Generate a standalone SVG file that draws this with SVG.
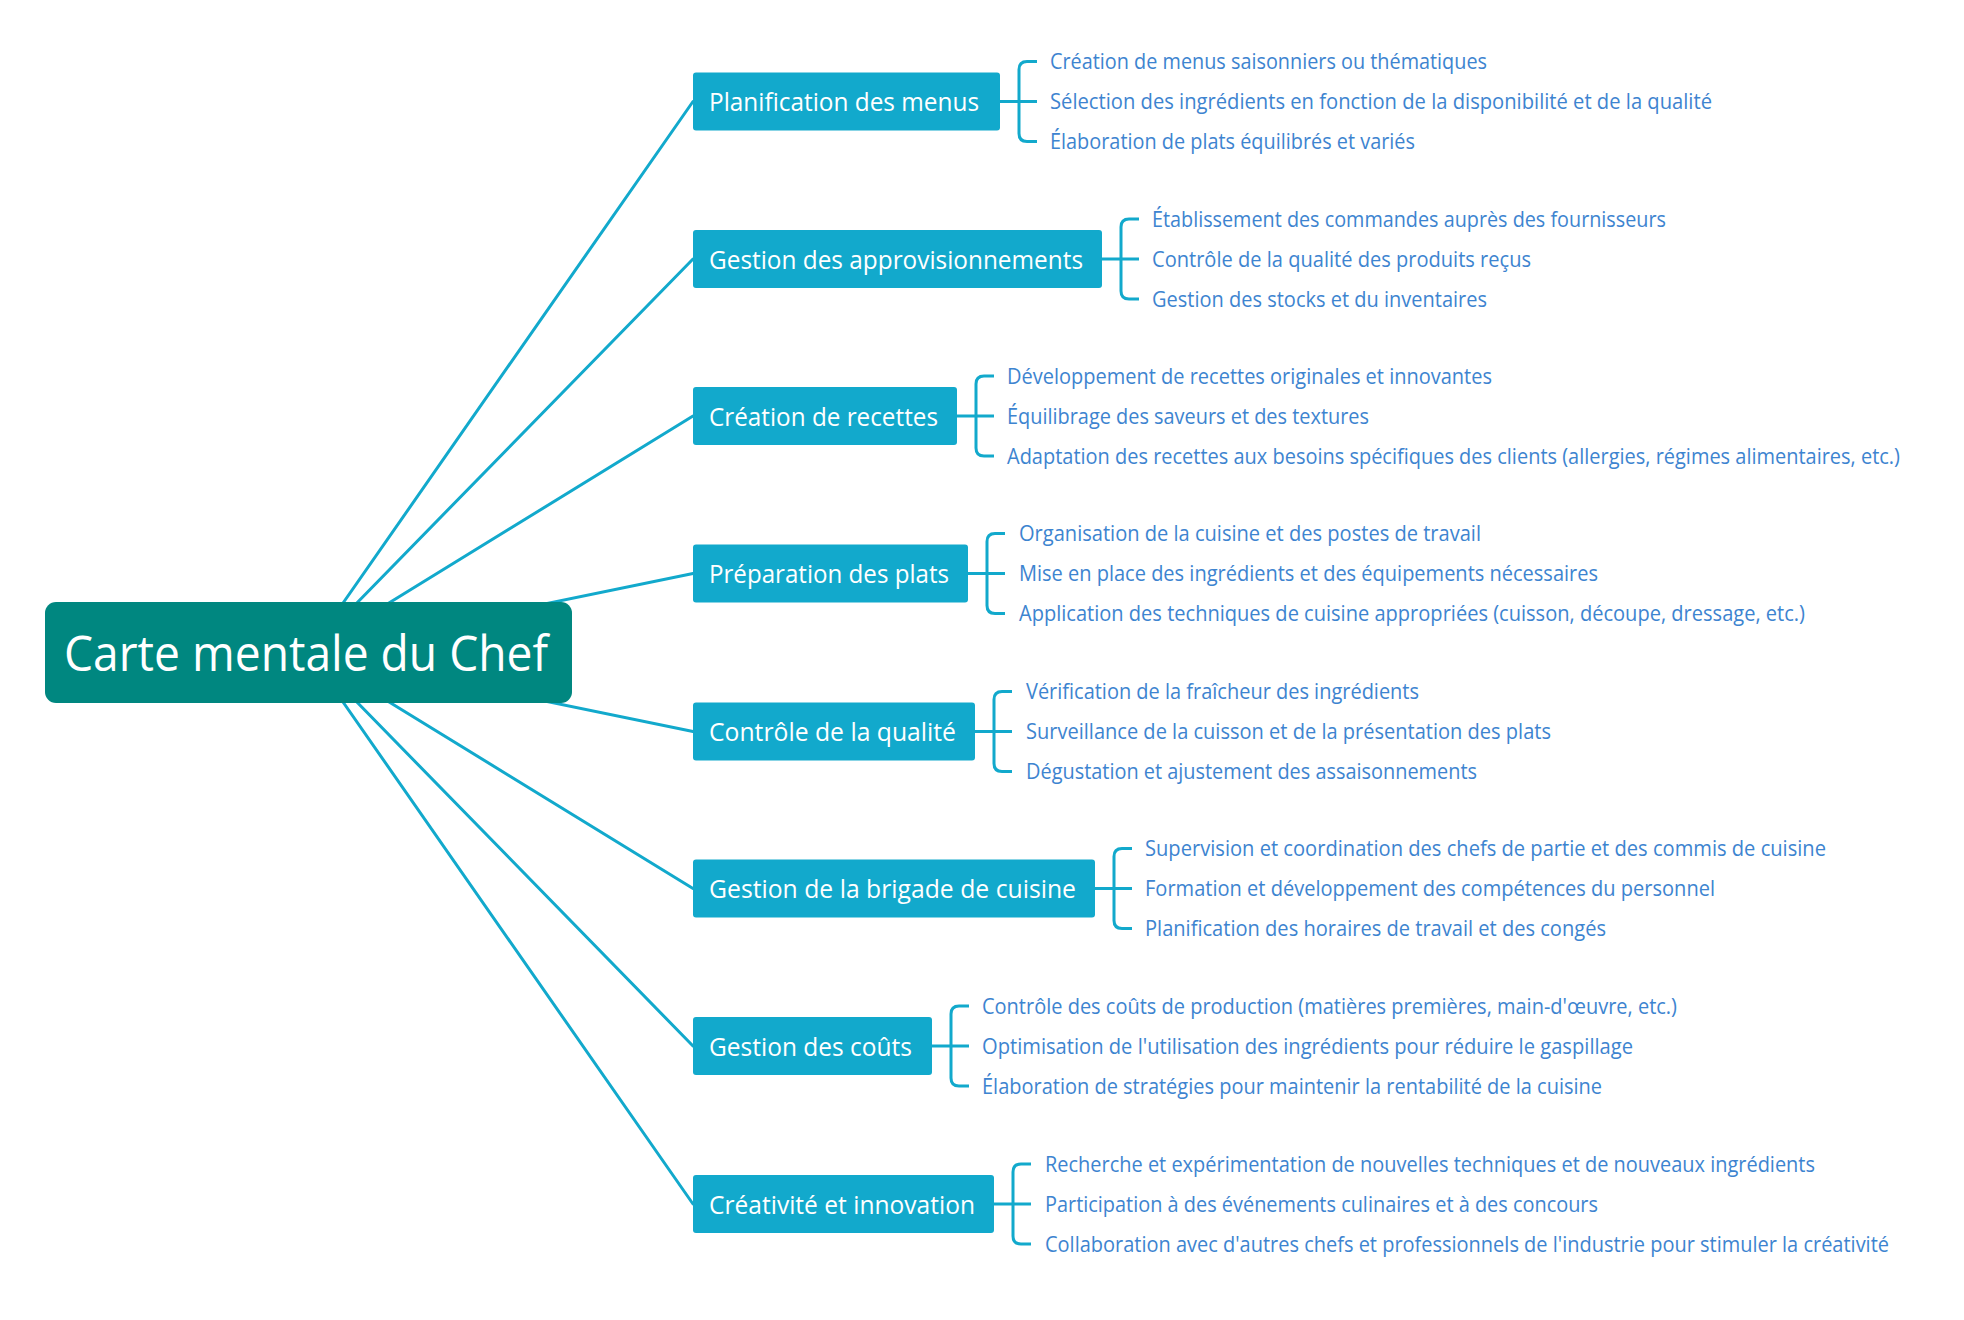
<svg xmlns="http://www.w3.org/2000/svg" width="1964" height="1320" viewBox="0 0 1964 1320">
<style>
.bg{fill:#ffffff}
.conn{fill:none;stroke:#12a9cc;stroke-width:3;stroke-linecap:round}
.brk{fill:none;stroke:#12a9cc;stroke-width:3}
.root{fill:#008780}
.box{fill:#12a9cc}
.rt{font-family:"Open Sans","Noto Sans",sans-serif;font-size:49px;fill:#ffffff}
.bt{font-family:"Open Sans","Noto Sans",sans-serif;font-size:26px;fill:#ffffff}
.lt{font-family:"Open Sans","Noto Sans",sans-serif;font-size:21px;fill:#3d84d0}
</style>
<rect class="bg" x="0" y="0" width="1964" height="1320"/>
<g id="connectors">
<path class="conn" d="M308.5,652.5 L693,101.5"/>
<path class="conn" d="M308.5,652.5 L693,259"/>
<path class="conn" d="M308.5,652.5 L693,416"/>
<path class="conn" d="M308.5,652.5 L693,573.5"/>
<path class="conn" d="M308.5,652.5 L693,731.5"/>
<path class="conn" d="M308.5,652.5 L693,888.5"/>
<path class="conn" d="M308.5,652.5 L693,1046"/>
<path class="conn" d="M308.5,652.5 L693,1204"/>
<path class="brk" d="M1000,101.5 H1037 M1037,61.5 H1027 Q1019,61.5 1019,69.5 V133.5 Q1019,141.5 1027,141.5 H1037"/>
<path class="brk" d="M1102,259 H1139 M1139,219 H1129 Q1121,219 1121,227 V291 Q1121,299 1129,299 H1139"/>
<path class="brk" d="M957,416 H994 M994,376 H984 Q976,376 976,384 V448 Q976,456 984,456 H994"/>
<path class="brk" d="M968,573.5 H1005 M1005,533.5 H995 Q987,533.5 987,541.5 V605.5 Q987,613.5 995,613.5 H1005"/>
<path class="brk" d="M975,731.5 H1012 M1012,691.5 H1002 Q994,691.5 994,699.5 V763.5 Q994,771.5 1002,771.5 H1012"/>
<path class="brk" d="M1095,888.5 H1132 M1132,848.5 H1122 Q1114,848.5 1114,856.5 V920.5 Q1114,928.5 1122,928.5 H1132"/>
<path class="brk" d="M932,1046 H969 M969,1006 H959 Q951,1006 951,1014 V1078 Q951,1086 959,1086 H969"/>
<path class="brk" d="M994,1204 H1031 M1031,1164 H1021 Q1013,1164 1013,1172 V1236 Q1013,1244 1021,1244 H1031"/>
</g>
<g id="root">
<rect class="root" x="45" y="602" width="527" height="101" rx="11"/>
<text class="rt" x="64" y="670.5" textLength="484" lengthAdjust="spacingAndGlyphs">Carte mentale du Chef</text>
</g>
<g id="n1">
<rect class="box" x="693" y="72.5" width="307" height="58" rx="3"/>
<text class="bt" x="709" y="111" textLength="270" lengthAdjust="spacingAndGlyphs">Planification des menus</text>
<text class="lt" x="1050" y="69" textLength="437" lengthAdjust="spacingAndGlyphs">Création de menus saisonniers ou thématiques</text>
<text class="lt" x="1050" y="109" textLength="662" lengthAdjust="spacingAndGlyphs">Sélection des ingrédients en fonction de la disponibilité et de la qualité</text>
<text class="lt" x="1050" y="149" textLength="365" lengthAdjust="spacingAndGlyphs">Élaboration de plats équilibrés et variés</text>
</g>
<g id="n2">
<rect class="box" x="693" y="230" width="409" height="58" rx="3"/>
<text class="bt" x="709" y="268.5" textLength="374" lengthAdjust="spacingAndGlyphs">Gestion des approvisionnements</text>
<text class="lt" x="1152" y="226.5" textLength="514" lengthAdjust="spacingAndGlyphs">Établissement des commandes auprès des fournisseurs</text>
<text class="lt" x="1152" y="266.5" textLength="379" lengthAdjust="spacingAndGlyphs">Contrôle de la qualité des produits reçus</text>
<text class="lt" x="1152" y="306.5" textLength="335" lengthAdjust="spacingAndGlyphs">Gestion des stocks et du inventaires</text>
</g>
<g id="n3">
<rect class="box" x="693" y="387" width="264" height="58" rx="3"/>
<text class="bt" x="709" y="425.5" textLength="229" lengthAdjust="spacingAndGlyphs">Création de recettes</text>
<text class="lt" x="1007" y="383.5" textLength="485" lengthAdjust="spacingAndGlyphs">Développement de recettes originales et innovantes</text>
<text class="lt" x="1007" y="423.5" textLength="362" lengthAdjust="spacingAndGlyphs">Équilibrage des saveurs et des textures</text>
<text class="lt" x="1007" y="463.5" textLength="893" lengthAdjust="spacingAndGlyphs">Adaptation des recettes aux besoins spécifiques des clients (allergies, régimes alimentaires, etc.)</text>
</g>
<g id="n4">
<rect class="box" x="693" y="544.5" width="275" height="58" rx="3"/>
<text class="bt" x="709" y="583" textLength="240" lengthAdjust="spacingAndGlyphs">Préparation des plats</text>
<text class="lt" x="1019" y="541" textLength="462" lengthAdjust="spacingAndGlyphs">Organisation de la cuisine et des postes de travail</text>
<text class="lt" x="1019" y="581" textLength="579" lengthAdjust="spacingAndGlyphs">Mise en place des ingrédients et des équipements nécessaires</text>
<text class="lt" x="1019" y="621" textLength="786" lengthAdjust="spacingAndGlyphs">Application des techniques de cuisine appropriées (cuisson, découpe, dressage, etc.)</text>
</g>
<g id="n5">
<rect class="box" x="693" y="702.5" width="282" height="58" rx="3"/>
<text class="bt" x="709" y="741" textLength="247" lengthAdjust="spacingAndGlyphs">Contrôle de la qualité</text>
<text class="lt" x="1026" y="699" textLength="393" lengthAdjust="spacingAndGlyphs">Vérification de la fraîcheur des ingrédients</text>
<text class="lt" x="1026" y="739" textLength="525" lengthAdjust="spacingAndGlyphs">Surveillance de la cuisson et de la présentation des plats</text>
<text class="lt" x="1026" y="779" textLength="451" lengthAdjust="spacingAndGlyphs">Dégustation et ajustement des assaisonnements</text>
</g>
<g id="n6">
<rect class="box" x="693" y="859.5" width="402" height="58" rx="3"/>
<text class="bt" x="709" y="898" textLength="367" lengthAdjust="spacingAndGlyphs">Gestion de la brigade de cuisine</text>
<text class="lt" x="1145" y="856" textLength="681" lengthAdjust="spacingAndGlyphs">Supervision et coordination des chefs de partie et des commis de cuisine</text>
<text class="lt" x="1145" y="896" textLength="570" lengthAdjust="spacingAndGlyphs">Formation et développement des compétences du personnel</text>
<text class="lt" x="1145" y="936" textLength="461" lengthAdjust="spacingAndGlyphs">Planification des horaires de travail et des congés</text>
</g>
<g id="n7">
<rect class="box" x="693" y="1017" width="239" height="58" rx="3"/>
<text class="bt" x="709" y="1055.5" textLength="203" lengthAdjust="spacingAndGlyphs">Gestion des coûts</text>
<text class="lt" x="982" y="1013.5" textLength="695" lengthAdjust="spacingAndGlyphs">Contrôle des coûts de production (matières premières, main-d'œuvre, etc.)</text>
<text class="lt" x="982" y="1053.5" textLength="651" lengthAdjust="spacingAndGlyphs">Optimisation de l'utilisation des ingrédients pour réduire le gaspillage</text>
<text class="lt" x="982" y="1093.5" textLength="620" lengthAdjust="spacingAndGlyphs">Élaboration de stratégies pour maintenir la rentabilité de la cuisine</text>
</g>
<g id="n8">
<rect class="box" x="693" y="1175" width="301" height="58" rx="3"/>
<text class="bt" x="709" y="1213.5" textLength="266" lengthAdjust="spacingAndGlyphs">Créativité et innovation</text>
<text class="lt" x="1045" y="1171.5" textLength="770" lengthAdjust="spacingAndGlyphs">Recherche et expérimentation de nouvelles techniques et de nouveaux ingrédients</text>
<text class="lt" x="1045" y="1211.5" textLength="553" lengthAdjust="spacingAndGlyphs">Participation à des événements culinaires et à des concours</text>
<text class="lt" x="1045" y="1251.5" textLength="844" lengthAdjust="spacingAndGlyphs">Collaboration avec d'autres chefs et professionnels de l'industrie pour stimuler la créativité</text>
</g>
</svg>
